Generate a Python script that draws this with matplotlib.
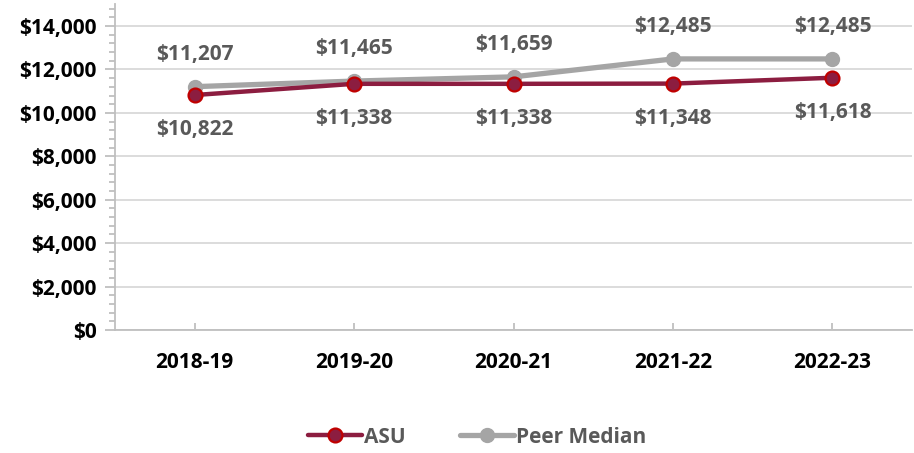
import matplotlib
matplotlib.use("Agg")
import matplotlib.pyplot as plt
from matplotlib.ticker import MultipleLocator, FuncFormatter

categories = ["2018-19", "2019-20", "2020-21", "2021-22", "2022-23"]
asu = [10822, 11338, 11338, 11348, 11618]
peer = [11207, 11465, 11659, 12485, 12485]

plt.rcParams['font.family'] = ['Open Sans', 'DejaVu Sans']

fig = plt.figure(figsize=(9.14, 4.53), dpi=100)
ax = fig.add_axes([0.1258, 0.2715, 0.998 - 0.1258, 0.9905 - 0.2715])

x = list(range(len(categories)))
ASU_LINE = "#8C1D40"
ASU_EDGE = "#C00000"
GRAY = "#A5A5A5"
LABEL = "#595959"
FS = 15

ax.plot(x, peer, color=GRAY, lw=3.8, marker='o', ms=10, mfc=GRAY, mec=GRAY,
        zorder=3, label="Peer Median", solid_capstyle='round')
ax.plot(x, asu, color=ASU_LINE, lw=3.2, marker='o', ms=10, mfc=ASU_LINE, mec=ASU_EDGE,
        mew=1.6, zorder=4, label="ASU", solid_capstyle='round')

for xi, v in zip(x, peer):
    ax.annotate(f"${v:,}", (xi, v), xytext=(0, 23.5), textcoords='offset points',
                ha='center', va='center', fontsize=FS, fontweight='bold', color=LABEL)
for xi, v in zip(x, asu):
    ax.annotate(f"${v:,}", (xi, v), xytext=(0, -25), textcoords='offset points',
                ha='center', va='center', fontsize=FS, fontweight='bold', color=LABEL)

ax.set_xlim(-0.5, 4.5)
ax.set_ylim(0, 15000)
ax.yaxis.set_major_locator(MultipleLocator(2000))
ax.yaxis.set_minor_locator(MultipleLocator(400))
ax.yaxis.set_major_formatter(FuncFormatter(lambda v, p: f"${int(v):,}"))
ax.set_xticks(x)
ax.set_xticklabels(categories)

ax.grid(axis='y', which='major', color='#D9D9D9', lw=1.3)
ax.set_axisbelow(True)
for s in ['top', 'right']:
    ax.spines[s].set_visible(False)
for s in ['left', 'bottom']:
    ax.spines[s].set_color('#BFBFBF')
    ax.spines[s].set_linewidth(1.3)

ax.tick_params(axis='y', which='major', direction='out', length=7, width=1.3,
               color='#BFBFBF', labelsize=FS, pad=6)
ax.tick_params(axis='y', which='minor', direction='out', length=4.5, width=1.3,
               color='#BFBFBF')
ax.tick_params(axis='x', which='major', direction='in', length=5, width=1.3,
               color='#BFBFBF', labelsize=FS, pad=16)
for lab in ax.get_yticklabels() + ax.get_xticklabels():
    lab.set_fontweight('bold')
    lab.set_color('black')

handles, labels = ax.get_legend_handles_labels()
leg = fig.legend(handles[::-1], labels[::-1], loc='center', bbox_to_anchor=(0.522, 0.035),
                 ncol=2, frameon=False, handlelength=2.6, columnspacing=2.6,
                 handletextpad=0.1, prop={'weight': 'bold', 'size': FS})
for t in leg.get_texts():
    t.set_color(LABEL)

fig.savefig("out.png", dpi=100)
